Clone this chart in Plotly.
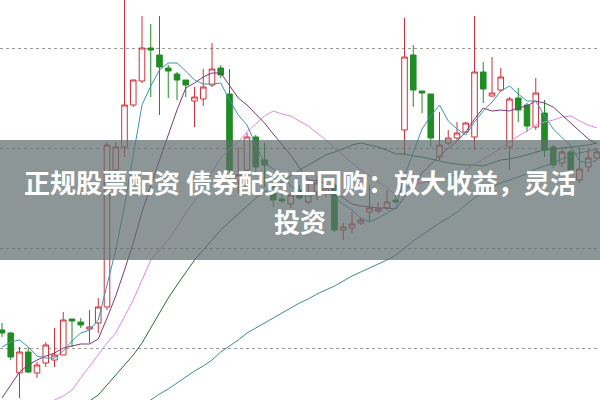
import plotly.graph_objects as go

idx = list(range(69))

opens = [3.70, 3.67, 3.27, 3.48, 3.27, 3.37, 3.40, 3.45, 3.81, 3.78,
         3.71, 3.77, 3.93, 5.30, 5.53, 5.95, 6.19, 6.52, 6.45, 6.32,
         6.26, 6.20, 5.99, 6.01, 6.15, 6.32, 6.06, 5.20, 5.30, 5.63,
         5.40, 5.07, 5.01, 4.96, 5.10, 4.98, 5.08, 5.07, 5.15, 4.70,
         4.72, 4.77, 4.88, 4.89, 4.92, 5.00, 5.70, 6.45, 6.09, 6.06,
         5.43, 5.57, 5.62, 5.68, 5.63, 6.28, 6.04, 6.10, 5.53, 6.02,
         5.95, 5.73, 5.87, 5.53, 5.37, 5.48, 5.20, 5.33, 5.42]
highs = [3.77, 3.68, 3.53, 3.53, 3.38, 3.58, 3.72, 3.88, 3.81, 3.82,
         3.90, 4.02, 5.58, 5.58, 7.08, 6.20, 6.84, 6.76, 6.84, 6.35,
         6.28, 6.20, 6.13, 6.31, 6.57, 6.35, 6.31, 5.53, 5.67, 5.65,
         5.57, 5.15, 5.08, 5.07, 5.15, 5.17, 5.25, 5.17, 5.17, 4.77,
         4.88, 4.82, 5.15, 4.98, 5.10, 5.08, 6.82, 6.55, 6.09, 6.06,
         5.88, 5.70, 5.78, 5.78, 6.84, 6.38, 6.43, 6.32, 6.03, 6.12,
         5.97, 6.22, 6.00, 5.55, 5.53, 5.50, 5.53, 5.52, 5.52]
lows = [3.63, 3.40, 3.02, 3.27, 3.22, 3.33, 3.33, 3.45, 3.53, 3.72,
        3.57, 3.67, 3.90, 5.25, 5.43, 5.93, 6.17, 6.03, 5.85, 6.02,
        6.00, 6.03, 5.73, 5.94, 6.13, 6.22, 5.07, 5.07, 5.28, 5.25,
        5.13, 4.93, 4.97, 4.92, 5.00, 4.96, 5.00, 5.03, 4.68, 4.60,
        4.67, 4.75, 4.78, 4.87, 4.90, 4.97, 5.45, 5.93, 5.87, 5.53,
        5.40, 5.55, 5.60, 5.67, 5.50, 5.97, 6.03, 6.08, 5.30, 5.78,
        5.68, 5.70, 5.43, 5.32, 5.33, 5.28, 5.17, 5.28, 5.40]
closes = [3.67, 3.43, 3.48, 3.28, 3.35, 3.55, 3.45, 3.80, 3.79, 3.75,
          3.73, 3.93, 5.55, 5.53, 5.95, 6.20, 6.52, 6.50, 6.33, 6.29,
          6.20, 6.15, 6.03, 6.13, 6.31, 6.25, 5.30, 5.25, 5.63, 5.33,
          5.35, 5.00, 4.99, 5.05, 5.02, 5.07, 5.17, 5.12, 4.70, 4.73,
          4.76, 4.80, 4.92, 4.91, 4.98, 4.98, 6.43, 6.10, 6.07, 5.62,
          5.55, 5.62, 5.67, 5.77, 6.28, 6.11, 6.07, 6.23, 6.01, 5.90,
          5.74, 6.07, 5.50, 5.35, 5.48, 5.30, 5.31, 5.42, 5.48]

ma5 = [3.53, 3.58, 3.60, 3.53, 3.44, 3.42, 3.42, 3.49, 3.59, 3.67,
       3.70, 3.80, 4.15, 4.50, 4.94, 5.43, 5.95, 6.14, 6.30, 6.37,
       6.37, 6.29, 6.20, 6.16, 6.16, 6.17, 6.00, 5.85, 5.75, 5.55,
       5.37, 5.31, 5.26, 5.14, 5.08, 5.03, 5.06, 5.09, 5.02, 4.96,
       4.90, 4.82, 4.78, 4.82, 4.87, 4.92, 5.24, 5.48, 5.71, 5.84,
       5.95, 5.79, 5.71, 5.65, 5.78, 5.89, 5.98, 6.09, 6.14, 6.06,
       5.99, 5.99, 5.84, 5.71, 5.63, 5.54, 5.39, 5.37, 5.40]
ma10 = [3.02, 3.15, 3.28, 3.35, 3.40, 3.44, 3.47, 3.52, 3.54, 3.56,
        3.56, 3.61, 3.82, 4.04, 4.30, 4.57, 4.88, 5.15, 5.40, 5.65,
        5.90, 6.12, 6.17, 6.23, 6.27, 6.27, 6.15, 6.02, 5.95, 5.86,
        5.77, 5.66, 5.55, 5.45, 5.32, 5.20, 5.19, 5.17, 5.08, 5.02,
        4.96, 4.94, 4.93, 4.92, 4.92, 4.91, 5.03, 5.13, 5.27, 5.36,
        5.44, 5.52, 5.59, 5.68, 5.81, 5.92, 5.89, 5.90, 5.89, 5.92,
        5.94, 5.99, 5.97, 5.93, 5.85, 5.77, 5.69, 5.61, 5.56]
ma20 = [2.60, 2.67, 2.75, 2.82, 2.88, 2.94, 3.00, 3.04, 3.10, 3.22,
        3.34, 3.45, 3.57, 3.67, 3.84, 4.00, 4.20, 4.40, 4.50, 4.60,
        4.73, 4.87, 4.99, 5.14, 5.28, 5.42, 5.51, 5.58, 5.68, 5.76,
        5.84, 5.89, 5.86, 5.84, 5.79, 5.74, 5.67, 5.60, 5.52, 5.44,
        5.37, 5.30, 5.24, 5.18, 5.12, 5.05, 5.11, 5.15, 5.17, 5.19,
        5.20, 5.23, 5.26, 5.30, 5.36, 5.41, 5.46, 5.52, 5.58, 5.64,
        5.69, 5.75, 5.78, 5.80, 5.83, 5.84, 5.79, 5.75, 5.72]
ma30 = [2.30, 2.37, 2.44, 2.51, 2.58, 2.65, 2.72, 2.79, 2.86, 2.93,
        2.99, 3.05, 3.15, 3.25, 3.35, 3.45, 3.57, 3.72, 3.88, 4.02,
        4.15, 4.28, 4.40, 4.50, 4.60, 4.70, 4.78, 4.86, 4.93, 5.02,
        5.08, 5.13, 5.18, 5.24, 5.30, 5.35, 5.40, 5.45, 5.48, 5.51,
        5.55, 5.57, 5.55, 5.53, 5.50, 5.46, 5.46, 5.44, 5.43, 5.41,
        5.39, 5.37, 5.36, 5.35, 5.35, 5.34, 5.37, 5.40, 5.41, 5.43,
        5.45, 5.48, 5.50, 5.51, 5.52, 5.53, 5.54, 5.55, 5.57]
ma60 = [2.02, 2.08, 2.13, 2.19, 2.25, 2.31, 2.37, 2.42, 2.48, 2.54,
        2.60, 2.65, 2.71, 2.77, 2.83, 2.88, 2.94, 3.00, 3.06, 3.11,
        3.17, 3.23, 3.29, 3.34, 3.40, 3.48, 3.54, 3.60, 3.67, 3.72,
        3.77, 3.82, 3.87, 3.92, 3.97, 4.01, 4.06, 4.10, 4.14, 4.19,
        4.24, 4.28, 4.32, 4.36, 4.40, 4.45, 4.52, 4.59, 4.65, 4.71,
        4.77, 4.82, 4.88, 4.95, 5.02, 5.08, 5.13, 5.17, 5.20, 5.23,
        5.26, 5.31, 5.34, 5.37, 5.41, 5.44, 5.47, 5.49, 5.51]

grid_levels = [6.52, 5.52, 4.52, 3.52]

title_line1 = "正规股票配资 债券配资正回购：放大收益，灵活"
title_line2 = "投资"

fig = go.Figure()

ma_styles = [
    (ma60, "#3f8c8c"),
    (ma30, "#2f6b3c"),
    (ma20, "#e08ae0"),
    (ma10, "#7a3a78"),
    (ma5, "#3d95ad"),
]
for vals, col in ma_styles:
    fig.add_trace(go.Scatter(x=idx, y=vals, mode="lines",
                             line=dict(color=col, width=1),
                             hoverinfo="skip", showlegend=False))

fig.add_trace(go.Candlestick(
    x=idx, open=opens, high=highs, low=lows, close=closes,
    increasing=dict(line=dict(color="#d0303a", width=1), fillcolor="#ffffff"),
    decreasing=dict(line=dict(color="#1f8c24", width=1), fillcolor="#1f8c24"),
    whiskerwidth=0, showlegend=False))

fig.add_shape(type="rect", xref="paper", yref="paper",
              x0=0, x1=1, y0=0.35, y1=0.65,
              fillcolor="rgba(95,110,110,0.72)", line=dict(width=0),
              layer="above")

fig.add_annotation(x=0.5, y=0.545, xref="paper", yref="paper",
                   text=title_line1, showarrow=False,
                   font=dict(family="Noto Sans CJK SC", size=26, color="white",
                             weight="bold"))
fig.add_annotation(x=0.5, y=0.45, xref="paper", yref="paper",
                   text=title_line2, showarrow=False,
                   font=dict(family="Noto Sans CJK SC", size=26, color="white",
                             weight="bold"))

fig.update_layout(
    width=600, height=400,
    margin=dict(l=0, r=0, t=0, b=0),
    paper_bgcolor="white", plot_bgcolor="white",
    boxgap=0.25, boxgroupgap=0.15,
    xaxis=dict(range=[-0.229, 68.343], visible=False, rangeslider=dict(visible=False),
               fixedrange=True),
    yaxis=dict(range=[3.0, 7.0], tickvals=grid_levels, showticklabels=False,
               showgrid=True, gridcolor="#9a9a9a", griddash="dot", gridwidth=1,
               zeroline=False, showline=False, ticks="", fixedrange=True),
)

fig.write_html("out.html", config={"displayModeBar": False},
               post_script="document.body.style.margin='0';")
